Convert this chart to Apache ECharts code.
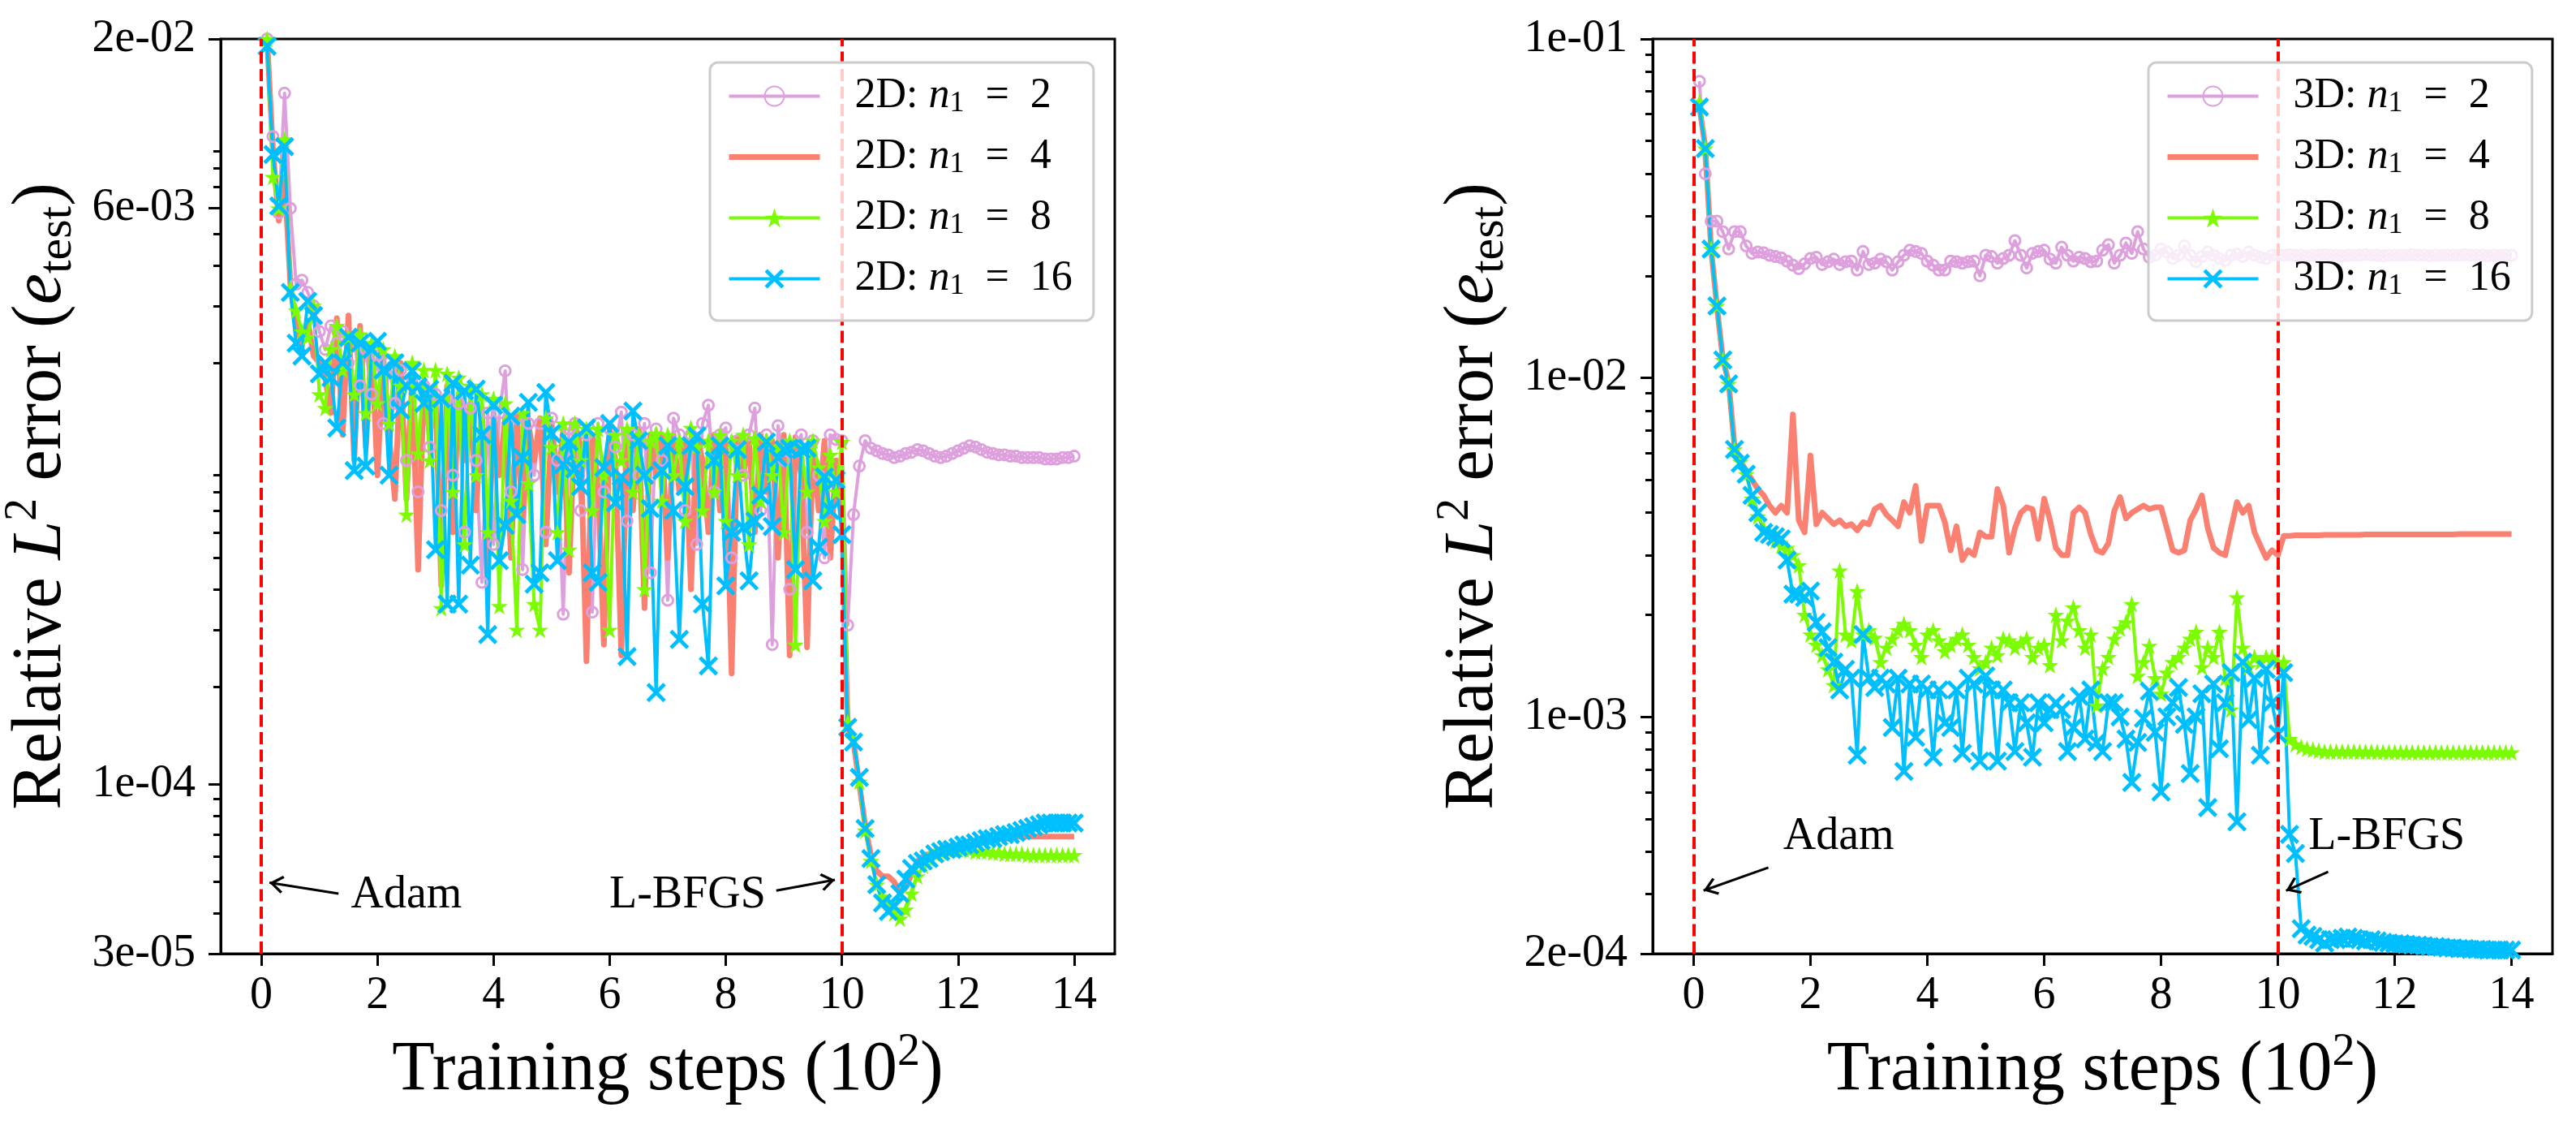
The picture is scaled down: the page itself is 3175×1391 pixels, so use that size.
<!DOCTYPE html>
<html><head><meta charset="utf-8">
<script src="https://cdn.jsdelivr.net/npm/echarts@6/dist/echarts.min.js"></script>
<style>html,body{margin:0;padding:0;background:#fff}#c{width:3175px;height:1391px}</style>
</head><body><div id="c"></div>
<script>
// ---------------- data ----------------
const steps = [
0.1,0.2,0.3,0.4,0.5,0.6,0.7,0.8,0.9,1.0,
1.1,1.2,1.3,1.4,1.5,1.6,1.7,1.8,1.9,2.0,
2.1,2.2,2.3,2.4,2.5,2.6,2.7,2.8,2.9,3.0,
3.1,3.2,3.3,3.4,3.5,3.6,3.7,3.8,3.9,4.0,
4.1,4.2,4.3,4.4,4.5,4.6,4.7,4.8,4.9,5.0,
5.1,5.2,5.3,5.4,5.5,5.6,5.7,5.8,5.9,6.0,
6.1,6.2,6.3,6.4,6.5,6.6,6.7,6.8,6.9,7.0,
7.1,7.2,7.3,7.4,7.5,7.6,7.7,7.8,7.9,8.0,
8.1,8.2,8.3,8.4,8.5,8.6,8.7,8.8,8.9,9.0,
9.1,9.2,9.3,9.4,9.5,9.6,9.7,9.8,9.9,10.0,
10.1,10.2,10.3,10.4,10.5,10.6,10.7,10.8,10.9,11.0,
11.1,11.2,11.3,11.4,11.5,11.6,11.7,11.8,11.9,12.0,
12.1,12.2,12.3,12.4,12.5,12.6,12.7,12.8,12.9,13.0,
13.1,13.2,13.3,13.4,13.5,13.6,13.7,13.8,13.9,14.0];

const xTicks = [0,2,4,6,8,10,12,14];
const yTicks2D = [2e-2, 6e-3, 1e-4, 3e-5];
const yTicks3D = [1e-1, 1e-2, 1e-3, 2e-4];
const yMinor2D = [4e-5,5e-5,6e-5,7e-5,8e-5,9e-5,2e-4,3e-4,4e-4,5e-4,6e-4,7e-4,8e-4,9e-4,2e-3,3e-3,4e-3,5e-3,7e-3,8e-3,9e-3];
const yMinor3D = [3e-4,4e-4,5e-4,6e-4,7e-4,8e-4,9e-4,2e-3,3e-3,4e-3,5e-3,6e-3,7e-3,8e-3,9e-3,2e-2,3e-2,4e-2,5e-2,6e-2,7e-2,8e-2,9e-2];

const names2D = ['2D: n1 = 2','2D: n1 = 4','2D: n1 = 8','2D: n1 = 16'];
const names3D = ['3D: n1 = 2','3D: n1 = 4','3D: n1 = 8','3D: n1 = 16'];

// 2D panel
const err2D_n2 = [
2.0e-2,1.0e-2,5.8e-3,1.36e-2,6.0e-3,3.5e-3,3.6e-3,3.3e-3,3.0e-3,2.5e-3,
2.2e-3,2.6e-3,2.3e-3,2.5e-3,2.0e-3,2.4e-3,1.7e-3,2.2e-3,1.6e-3,2.1e-3,
1.3e-3,2.0e-3,1.5e-3,1.9e-3,1.0e-3,1.8e-3,8.0e-4,1.7e-3,1.1e-3,1.6e-3,
7.0e-4,1.55e-3,9.0e-4,1.5e-3,6.0e-4,1.45e-3,1.0e-3,4.2e-4,1.4e-3,5.5e-4,
1.4e-3,1.89e-3,8.0e-4,1.35e-3,4.6e-4,1.3e-3,9.0e-4,1.3e-3,6.0e-4,1.35e-3,
1.0e-3,3.35e-4,1.25e-3,1.3e-3,7.0e-4,1.2e-3,3.4e-4,1.3e-3,8.0e-4,1.25e-3,
1.1e-3,1.41e-3,6.5e-4,1.2e-3,9.0e-4,1.3e-3,4.5e-4,1.25e-3,1.0e-3,3.7e-4,
1.35e-3,1.2e-3,7.0e-4,1.2e-3,5.5e-4,1.3e-3,1.48e-3,8.0e-4,1.2e-3,1.26e-3,
5.0e-4,1.15e-3,9.0e-4,1.2e-3,1.45e-3,7.0e-4,1.2e-3,2.7e-4,1.28e-3,1.0e-3,
4.0e-4,1.1e-3,1.2e-3,6.0e-4,1.15e-3,9.0e-4,5.0e-4,1.2e-3,1.16e-3,1.15e-3,
3.1e-4,6.8e-4,9.6e-4,1.15e-3,1.09e-3,1.07e-3,1.05e-3,1.04e-3,1.02e-3,1.03e-3,
1.05e-3,1.06e-3,1.08e-3,1.07e-3,1.05e-3,1.03e-3,1.02e-3,1.03e-3,1.05e-3,1.07e-3,
1.09e-3,1.11e-3,1.1e-3,1.08e-3,1.06e-3,1.05e-3,1.04e-3,1.04e-3,1.03e-3,1.03e-3,
1.02e-3,1.02e-3,1.02e-3,1.02e-3,1.01e-3,1.01e-3,1.01e-3,1.02e-3,1.02e-3,1.03e-3];

const err2D_n4 = [
2.0e-2,9.0e-3,5.5e-3,7.5e-3,3.5e-3,2.6e-3,2.3e-3,2.7e-3,2.1e-3,2.0e-3,
1.8e-3,1.4e-3,2.75e-3,1.2e-3,2.8e-3,1.0e-3,2.6e-3,1.1e-3,2.3e-3,9.0e-4,
2.1e-3,1.2e-3,7.6e-4,2.0e-3,7.6e-4,1.8e-3,4.6e-4,1.7e-3,1.2e-3,1.6e-3,
4.1e-4,1.7e-3,6.0e-4,1.6e-3,1.0e-3,1.5e-3,7.0e-4,1.45e-3,4.5e-4,1.4e-3,
9.0e-4,1.35e-3,5.0e-4,1.4e-3,6.5e-4,1.3e-3,1.0e-3,1.35e-3,5.5e-4,1.3e-3,
8.0e-4,1.25e-3,4.5e-4,1.3e-3,1.1e-3,2.4e-4,1.2e-3,8.5e-4,2.7e-4,1.25e-3,
1.0e-3,2.5e-4,1.2e-3,7.0e-4,1.25e-3,3.5e-4,1.2e-3,9.0e-4,1.2e-3,5.0e-4,
1.2e-3,8.0e-4,1.15e-3,4.0e-4,1.2e-3,1.0e-3,6.0e-4,1.2e-3,7.0e-4,1.15e-3,
2.2e-4,1.17e-3,9.0e-4,1.15e-3,6.0e-4,1.2e-3,8.0e-4,1.15e-3,5.0e-4,1.2e-3,
2.5e-4,1.18e-3,9.0e-4,2.65e-4,1.1e-3,7.0e-4,1.15e-3,5.0e-4,1.0e-3,7.0e-4,
1.5e-4,1.35e-4,1.0e-4,7.5e-5,6.0e-5,5.4e-5,5.2e-5,5.2e-5,5.0e-5,4.6e-5,
4.8e-5,5.3e-5,5.8e-5,6.0e-5,6.1e-5,6.2e-5,6.3e-5,6.3e-5,6.4e-5,6.4e-5,
6.5e-5,6.5e-5,6.6e-5,6.6e-5,6.7e-5,6.7e-5,6.8e-5,6.8e-5,6.8e-5,6.9e-5,
6.9e-5,6.9e-5,6.9e-5,6.9e-5,6.9e-5,6.9e-5,6.9e-5,6.9e-5,6.9e-5,6.9e-5];

const err2D_n8 = [
2.0e-2,7.5e-3,6.0e-3,9.8e-3,3.4e-3,2.9e-3,2.5e-3,2.4e-3,3.0e-3,1.6e-3,
1.45e-3,2.2e-3,2.6e-3,1.9e-3,2.4e-3,1.6e-3,2.45e-3,1.4e-3,2.3e-3,1.5e-3,
2.2e-3,1.3e-3,2.1e-3,1.7e-3,6.8e-4,2.0e-3,1.05e-3,1.9e-3,1.0e-3,1.9e-3,
3.5e-4,1.85e-3,8.0e-4,1.8e-3,5.5e-4,1.7e-3,9.0e-4,1.6e-3,6.0e-4,1.55e-3,
3.55e-4,1.5e-3,7.5e-4,3.0e-4,1.4e-3,8.5e-4,3.6e-4,3.0e-4,1.35e-3,1.1e-3,
6.0e-4,1.3e-3,5.3e-4,1.3e-3,1.0e-3,1.25e-3,7.0e-4,1.25e-3,9.0e-4,3.0e-4,
1.2e-3,1.0e-3,1.25e-3,8.0e-4,1.2e-3,4.0e-4,1.15e-3,1.21e-3,7.5e-4,1.2e-3,
9.0e-4,1.15e-3,6.5e-4,1.26e-3,1.1e-3,7.0e-4,1.15e-3,8.0e-4,1.2e-3,6.5e-4,
1.15e-3,9.0e-4,1.2e-3,5.5e-4,1.17e-3,7.5e-4,1.15e-3,9.0e-4,1.1e-3,6.0e-4,
1.15e-3,2.7e-4,1.1e-3,8.0e-4,1.15e-3,9.5e-4,6.5e-4,1.04e-3,8.0e-4,1.14e-3,
1.55e-4,1.38e-4,1.02e-4,7.2e-5,5.8e-5,4.9e-5,4.5e-5,4.3e-5,4.0e-5,3.85e-5,
4.1e-5,4.6e-5,5.2e-5,5.6e-5,5.9e-5,6.1e-5,6.2e-5,6.3e-5,6.3e-5,6.3e-5,
6.3e-5,6.25e-5,6.2e-5,6.2e-5,6.2e-5,6.15e-5,6.15e-5,6.1e-5,6.1e-5,6.1e-5,
6.1e-5,6.05e-5,6.05e-5,6.05e-5,6.05e-5,6.05e-5,6.05e-5,6.05e-5,6.05e-5,6.05e-5];

const err2D_n16 = [
1.9e-2,8.8e-3,6.1e-3,9.3e-3,3.3e-3,2.3e-3,2.1e-3,3.1e-3,2.8e-3,1.85e-3,
2.0e-3,1.8e-3,1.26e-3,2.0e-3,2.4e-3,9.3e-4,2.3e-3,9.6e-4,2.2e-3,2.33e-3,
1.9e-3,9.0e-4,2.0e-3,1.43e-3,1.7e-3,1.89e-3,1.69e-3,1.5e-3,1.66e-3,5.3e-4,
1.55e-3,3.6e-4,1.73e-3,3.6e-4,1.64e-3,4.75e-4,1.66e-3,1.2e-3,2.9e-4,1.48e-3,
4.9e-4,6.3e-4,1.37e-3,6.8e-4,1.02e-3,1.51e-3,4.15e-4,4.5e-4,1.62e-3,1.21e-3,
4.9e-4,9.7e-4,1.14e-3,9.4e-4,8.3e-4,1.26e-3,4.5e-4,4.2e-4,9.5e-4,1.3e-3,
7.4e-4,8.9e-4,2.48e-4,1.42e-3,1.15e-3,9.0e-4,7.1e-4,1.92e-4,9.3e-4,1.11e-3,
7.0e-4,2.8e-4,8.3e-4,1.11e-3,1.19e-3,3.6e-4,2.32e-4,1.0e-3,1.11e-3,4.1e-4,
6.0e-4,1.08e-3,6.2e-4,4.25e-4,6.5e-4,7.8e-4,1.14e-3,6.25e-4,1.02e-3,1.08e-3,
1.09e-3,4.6e-4,1.08e-3,1.09e-3,4.25e-4,5.4e-4,8.9e-4,7.0e-4,8.7e-4,5.9e-4,
1.5e-4,1.35e-4,1.05e-4,7.3e-5,5.9e-5,4.9e-5,4.3e-5,4.05e-5,4.2e-5,4.6e-5,
5.1e-5,5.5e-5,5.7e-5,5.8e-5,5.9e-5,6.1e-5,6.2e-5,6.3e-5,6.3e-5,6.4e-5,
6.5e-5,6.5e-5,6.6e-5,6.7e-5,6.8e-5,6.8e-5,6.9e-5,7.0e-5,7.0e-5,7.1e-5,
7.2e-5,7.3e-5,7.4e-5,7.5e-5,7.6e-5,7.6e-5,7.6e-5,7.6e-5,7.6e-5,7.6e-5];

// 3D panel
const err3D_n2 = [
7.5e-2,4.0e-2,2.9e-2,2.9e-2,2.7e-2,2.4e-2,2.7e-2,2.7e-2,2.45e-2,2.33e-2,
2.35e-2,2.34e-2,2.3e-2,2.28e-2,2.26e-2,2.21e-2,2.15e-2,2.1e-2,2.17e-2,2.25e-2,
2.27e-2,2.16e-2,2.2e-2,2.24e-2,2.16e-2,2.2e-2,2.21e-2,2.08e-2,2.36e-2,2.16e-2,
2.18e-2,2.24e-2,2.2e-2,2.08e-2,2.2e-2,2.3e-2,2.38e-2,2.36e-2,2.33e-2,2.21e-2,
2.15e-2,2.08e-2,2.08e-2,2.21e-2,2.2e-2,2.18e-2,2.2e-2,2.21e-2,2.0e-2,2.3e-2,
2.28e-2,2.18e-2,2.25e-2,2.3e-2,2.54e-2,2.3e-2,2.11e-2,2.33e-2,2.36e-2,2.38e-2,
2.24e-2,2.18e-2,2.43e-2,2.3e-2,2.21e-2,2.27e-2,2.25e-2,2.2e-2,2.21e-2,2.38e-2,
2.47e-2,2.18e-2,2.3e-2,2.5e-2,2.33e-2,2.7e-2,2.4e-2,2.27e-2,2.3e-2,2.4e-2,
2.35e-2,2.25e-2,2.3e-2,2.45e-2,2.3e-2,2.2e-2,2.28e-2,2.35e-2,2.3e-2,2.25e-2,
2.22e-2,2.3e-2,2.32e-2,2.28e-2,2.35e-2,2.3e-2,2.27e-2,2.25e-2,2.3e-2,2.3e-2,
2.3e-2,2.31e-2,2.3e-2,2.3e-2,2.29e-2,2.3e-2,2.3e-2,2.31e-2,2.3e-2,2.3e-2,
2.29e-2,2.3e-2,2.3e-2,2.3e-2,2.31e-2,2.3e-2,2.3e-2,2.29e-2,2.3e-2,2.3e-2,
2.3e-2,2.3e-2,2.31e-2,2.3e-2,2.3e-2,2.29e-2,2.3e-2,2.3e-2,2.3e-2,2.3e-2,
2.3e-2,2.31e-2,2.3e-2,2.3e-2,2.3e-2,2.29e-2,2.3e-2,2.3e-2,2.3e-2,2.3e-2];

const err3D_n4 = [
6.3e-2,4.8e-2,2.4e-2,1.62e-2,1.14e-2,9.7e-3,6.3e-3,5.7e-3,5.3e-3,5.0e-3,
4.7e-3,4.5e-3,4.2e-3,4.0e-3,4.2e-3,4.0e-3,7.8e-3,3.8e-3,3.5e-3,5.9e-3,
3.7e-3,4.0e-3,3.85e-3,3.7e-3,3.8e-3,3.65e-3,3.7e-3,3.55e-3,3.75e-3,3.7e-3,
4.1e-3,4.2e-3,3.95e-3,3.8e-3,3.65e-3,4.3e-3,4.0e-3,4.8e-3,3.3e-3,4.2e-3,
4.2e-3,4.2e-3,3.75e-3,3.1e-3,3.65e-3,2.9e-3,3.1e-3,3.0e-3,3.5e-3,3.4e-3,
3.4e-3,4.7e-3,4.2e-3,3.05e-3,3.6e-3,4.0e-3,4.15e-3,4.1e-3,3.35e-3,4.4e-3,
3.8e-3,3.15e-3,3.0e-3,3.0e-3,4.0e-3,4.15e-3,4.0e-3,3.45e-3,3.1e-3,3.05e-3,
3.25e-3,4.05e-3,4.45e-3,3.85e-3,4.0e-3,4.1e-3,4.2e-3,4.1e-3,4.15e-3,4.15e-3,
3.6e-3,3.1e-3,3.05e-3,3.1e-3,3.8e-3,4.1e-3,4.5e-3,3.6e-3,3.15e-3,3.05e-3,
3.0e-3,3.6e-3,4.3e-3,4.0e-3,4.2e-3,3.5e-3,3.2e-3,2.94e-3,3.1e-3,3.0e-3,
3.42e-3,3.42e-3,3.43e-3,3.43e-3,3.43e-3,3.43e-3,3.43e-3,3.44e-3,3.44e-3,3.44e-3,
3.44e-3,3.44e-3,3.44e-3,3.44e-3,3.45e-3,3.45e-3,3.45e-3,3.45e-3,3.45e-3,3.45e-3,
3.45e-3,3.45e-3,3.45e-3,3.45e-3,3.45e-3,3.45e-3,3.45e-3,3.45e-3,3.45e-3,3.45e-3,
3.46e-3,3.46e-3,3.46e-3,3.46e-3,3.46e-3,3.46e-3,3.46e-3,3.46e-3,3.46e-3,3.46e-3];

const err3D_n8 = [
6.5e-2,4.75e-2,2.4e-2,1.63e-2,1.13e-2,9.6e-3,6.15e-3,5.65e-3,5.2e-3,4.4e-3,
3.9e-3,3.6e-3,3.5e-3,3.3e-3,3.2e-3,3.15e-3,3.0e-3,2.8e-3,2.0e-3,1.75e-3,
1.63e-3,1.52e-3,1.38e-3,1.24e-3,2.7e-3,1.75e-3,1.68e-3,2.35e-3,1.75e-3,1.8e-3,
1.71e-3,1.45e-3,1.6e-3,1.7e-3,1.8e-3,1.88e-3,1.8e-3,1.63e-3,1.5e-3,1.75e-3,
1.8e-3,1.68e-3,1.56e-3,1.63e-3,1.7e-3,1.75e-3,1.63e-3,1.5e-3,1.39e-3,1.45e-3,
1.6e-3,1.52e-3,1.7e-3,1.68e-3,1.6e-3,1.65e-3,1.7e-3,1.5e-3,1.6e-3,1.63e-3,
1.42e-3,2.0e-3,1.68e-3,1.92e-3,2.1e-3,1.8e-3,1.6e-3,1.75e-3,1.08e-3,1.39e-3,
1.5e-3,1.7e-3,1.82e-3,1.9e-3,2.15e-3,1.32e-3,1.45e-3,1.62e-3,1.3e-3,1.17e-3,
1.35e-3,1.45e-3,1.5e-3,1.6e-3,1.7e-3,1.78e-3,1.4e-3,1.6e-3,1.5e-3,1.78e-3,
1.3e-3,1.05e-3,2.25e-3,1.6e-3,1.4e-3,1.5e-3,1.45e-3,1.5e-3,1.5e-3,1.45e-3,
1.45e-3,8.6e-4,8.3e-4,8.15e-4,8.05e-4,8.0e-4,7.95e-4,7.9e-4,7.9e-4,7.9e-4,
7.9e-4,7.9e-4,7.9e-4,7.88e-4,7.88e-4,7.88e-4,7.87e-4,7.87e-4,7.86e-4,7.86e-4,
7.86e-4,7.85e-4,7.85e-4,7.85e-4,7.85e-4,7.85e-4,7.85e-4,7.85e-4,7.85e-4,7.85e-4,
7.85e-4,7.85e-4,7.85e-4,7.85e-4,7.85e-4,7.85e-4,7.85e-4,7.85e-4,7.85e-4,7.85e-4];

const err3D_n16 = [
6.3e-2,4.75e-2,2.4e-2,1.63e-2,1.13e-2,9.6e-3,6.15e-3,5.6e-3,5.2e-3,4.5e-3,
4.0e-3,3.5e-3,3.45e-3,3.4e-3,3.35e-3,2.9e-3,2.3e-3,2.3e-3,2.25e-3,2.35e-3,
1.9e-3,1.78e-3,1.6e-3,1.45e-3,1.2e-3,1.38e-3,1.3e-3,7.7e-4,1.75e-3,1.3e-3,
1.22e-3,1.3e-3,1.25e-3,9.3e-4,1.3e-3,6.9e-4,1.25e-3,8.7e-4,1.25e-3,1.2e-3,
7.6e-4,1.2e-3,9.6e-4,9.3e-4,1.2e-3,7.8e-4,1.3e-3,1.25e-3,7.4e-4,1.32e-3,
1.2e-3,7.4e-4,1.2e-3,1.1e-3,7.9e-4,1.1e-3,9.6e-4,7.6e-4,1.1e-3,9.6e-4,
1.05e-3,1.1e-3,1.05e-3,7.9e-4,9.3e-4,1.15e-3,8.6e-4,1.2e-3,8.4e-4,7.9e-4,
1.1e-3,1.1e-3,1.0e-3,8.6e-4,6.4e-4,8.4e-4,9.9e-4,1.19e-3,9.0e-4,6.0e-4,
1.0e-3,1.1e-3,1.22e-3,9.5e-4,6.8e-4,1.0e-3,1.17e-3,5.4e-4,1.25e-3,8.05e-4,
1.1e-3,1.35e-3,4.9e-4,1.45e-3,9.8e-4,1.3e-3,7.7e-4,1.38e-3,1.1e-3,8.9e-4,
1.35e-3,4.5e-4,3.95e-4,2.37e-4,2.27e-4,2.25e-4,2.2e-4,2.15e-4,2.2e-4,2.2e-4,
2.22e-4,2.24e-4,2.22e-4,2.2e-4,2.18e-4,2.2e-4,2.18e-4,2.16e-4,2.15e-4,2.14e-4,
2.14e-4,2.13e-4,2.12e-4,2.12e-4,2.11e-4,2.1e-4,2.1e-4,2.09e-4,2.08e-4,2.08e-4,
2.07e-4,2.07e-4,2.06e-4,2.06e-4,2.06e-4,2.05e-4,2.05e-4,2.05e-4,2.05e-4,2.05e-4];

// annotations: [text, text anchor (left, baseline), arrow tail, arrow head]
const notes2D = [
  ['Adam',   [1.55, 4.06e-5], [1.33, 4.6e-5], [0.14, 4.97e-5]],
  ['L-BFGS', [6.0, 4.06e-5],  [8.87, 4.7e-5], [9.88, 5.07e-5]]
];
const notes3D = [
  ['Adam',   [1.54, 3.96e-4],  [1.28, 3.59e-4],  [0.17, 3.07e-4]],
  ['L-BFGS', [10.53, 3.96e-4], [10.86, 3.49e-4], [10.14, 3.07e-4]]
];
const phaseLines = [0, 10];

// ---------------- styling ----------------
const F = "'Liberation Serif', 'Times New Roman', serif";
const STAR = 'path://M10,0L12.35,7.24L19.51,7.24L13.58,11.72L15.88,19L10,14.5L4.12,19L6.42,11.72L0.49,7.24L7.65,7.24Z';
const XMARK = 'path://M0,2.8L2.8,0L10,7.2L17.2,0L20,2.8L12.8,10L20,17.2L17.2,20L10,12.8L2.8,20L0,17.2L7.2,10Z';
const CHEV = 'path://M10,-16.1L10.02,-16.1L10,-16.08ZM10,0L20,14L17.9,16.1L10,5.2L2.1,16.1L0,14Z';

const STY = [
  {symbol:'circle', symbolSize:13, lineStyle:{color:'#DDA0DD', width:4}, itemStyle:{color:'rgba(255,255,255,0)', borderColor:'#DDA0DD', borderWidth:3}},
  {symbol:'none', lineStyle:{color:'#FA8072', width:7}, itemStyle:{color:'#FA8072'}},
  {symbol:STAR, symbolSize:21, lineStyle:{color:'#7CFC00', width:4}, itemStyle:{color:'#7CFC00'}},
  {symbol:XMARK, symbolSize:24, lineStyle:{color:'#00BFFF', width:4}, itemStyle:{color:'#00BFFF'}}
];

function fmtE(v) {
  const e = Math.floor(Math.log10(v) + 1e-9);
  const m = Math.round(v / Math.pow(10, e));
  const ee = Math.abs(e);
  return m + 'e' + (e < 0 ? '-' : '+') + (ee < 10 ? '0' + ee : ee);
}
const L10 = v => Math.log10(v);

const gridLeft = [265, 2037];

function xAxisFor(g) {
  return {
    type:'value', gridIndex:g, min:-0.7, max:14.7,
    axisLine:{show:true, onZero:false, lineStyle:{color:'#000', width:3}},
    axisTick:{show:true, customValues:xTicks, length:15, lineStyle:{color:'#000', width:3}},
    axisLabel:{show:true, customValues:xTicks, margin:24, fontFamily:F, fontSize:56, color:'#000'},
    splitLine:{show:false},
    name:'Training steps (10{sup|2})', nameLocation:'middle', nameGap:94,
    nameTextStyle:{fontFamily:F, fontSize:86, color:'#000', lineHeight:100,
      rich:{sup:{fontFamily:F, fontSize:56, lineHeight:56, verticalAlign:'top', color:'#000'}}}
  };
}

function yAxesFor(g, min, max, major, minor) {
  return [
    {type:'log', gridIndex:g, logBase:10, min:min, max:max, show:false},
    {type:'value', gridIndex:g, min:L10(min), max:L10(max), position:'left',
     axisLine:{show:true, onZero:false, lineStyle:{color:'#000', width:3}},
     axisTick:{show:true, customValues:major.map(L10), length:15, lineStyle:{color:'#000', width:3}},
     axisLabel:{show:true, customValues:major.map(L10), formatter:v => fmtE(Math.pow(10, v)),
       margin:31, fontFamily:F, fontSize:56, color:'#000'},
     splitLine:{show:false},
     name:'Relative {i|L}{sup|2} error ({i|e}{sub|test})', nameLocation:'middle', nameGap:171, nameRotate:90,
     nameTextStyle:{fontFamily:F, fontSize:86, color:'#000', lineHeight:100,
       rich:{
         i:{fontFamily:F, fontSize:86, fontStyle:'italic', lineHeight:100, color:'#000'},
         sup:{fontFamily:F, fontSize:56, lineHeight:56, verticalAlign:'top', color:'#000'},
         sub:{fontFamily:F, fontSize:60, lineHeight:60, verticalAlign:'bottom', color:'#000'}
       }}
    },
    {type:'value', gridIndex:g, min:L10(min), max:L10(max), position:'left',
     axisLine:{show:false, onZero:false},
     axisTick:{show:true, customValues:minor.map(L10), length:9, lineStyle:{color:'#000', width:3}},
     axisLabel:{show:false}, splitLine:{show:false}}
  ];
}

function legendFor(g, names, left) {
  return {
    data:names.map(function (n, k) {
      const it = {name:n, lineStyle:{width:STY[k].lineStyle.width, color:STY[k].lineStyle.color}};
      if (STY[k].symbol === 'none') it.itemStyle = {opacity:0};
      return it;
    }),
    left:left, top:77, orient:'vertical', z:20,
    itemWidth:112, itemHeight:30, itemGap:20,
    padding:[14, 26, 24, 20],
    backgroundColor:'rgba(255,255,255,0.8)', borderColor:'#cccccc', borderWidth:3, borderRadius:10,
    selectedMode:false,
    formatter:function (name) {
      const m = name.match(/^(\S+): n1 = (\d+)$/);
      return '{t|' + m[1] + ': }{i|n}{s|1}{t|  =  ' + m[2] + '}';
    },
    textStyle:{fontFamily:F, fontSize:52, color:'#000', lineHeight:55, padding:[0,0,0,38],
      rich:{
        t:{fontFamily:F, fontSize:52, lineHeight:55, color:'#000'},
        i:{fontFamily:F, fontSize:52, fontStyle:'italic', lineHeight:55, color:'#000'},
        s:{fontFamily:F, fontSize:36, lineHeight:36, verticalAlign:'bottom', color:'#000'}
      }}
  };
}

function seriesFor(g, names, arrays, notes) {
  return arrays.map(function (vals, k) {
    const s = STY[k];
    const ser = {
      type:'line', name:names[k], xAxisIndex:g, yAxisIndex:g * 3,
      data:steps.map((x, i) => [x, vals[i]]),
      symbol:s.symbol, symbolSize:s.symbolSize || 4,
      lineStyle:Object.assign({join:'round'}, s.lineStyle),
      itemStyle:s.itemStyle,
      emphasis:{disabled:true}, silent:true, animation:false, z:2
    };
    if (k === arrays.length - 1) {
      const red = {color:'#ff0000', width:4, type:[15, 6.5]};
      const ml = phaseLines.map(x => ({xAxis:x, lineStyle:red}));
      notes.forEach(function (n) {
        ml.push([
          {coord:n[2], symbol:'none', lineStyle:{color:'#000', width:3, type:'solid'}},
          {coord:n[3], symbol:CHEV, symbolSize:[22, 35]}
        ]);
      });
      ser.markLine = {silent:true, animation:false, z:6, label:{show:false}, symbol:['none','none'], data:ml};
      ser.markPoint = {
        silent:true, animation:false, z:6, symbol:'circle', symbolSize:1,
        itemStyle:{color:'rgba(0,0,0,0)'},
        label:{show:true, position:[0, 0], align:'left', verticalAlign:'bottom', offset:[0, 9],
          fontFamily:F, fontSize:56, color:'#000'},
        data:notes.map(n => ({coord:n[1], name:n[0], label:{formatter:n[0]}}))
      };
    }
    return ser;
  });
}

const option = {
  backgroundColor:'#ffffff',
  animation:false,
  textStyle:{fontFamily:F},
  grid:[
    {left:gridLeft[0], top:48, width:1109, height:1127, show:true, borderColor:'#000', borderWidth:3, backgroundColor:'rgba(0,0,0,0)'},
    {left:gridLeft[1], top:48, width:1109, height:1127, show:true, borderColor:'#000', borderWidth:3, backgroundColor:'rgba(0,0,0,0)'}
  ],
  xAxis:[xAxisFor(0), xAxisFor(1)],
  yAxis:[].concat(yAxesFor(0, 3e-5, 2e-2, yTicks2D, yMinor2D), yAxesFor(1, 2e-4, 1e-1, yTicks3D, yMinor3D)),
  legend:[legendFor(0, names2D, 875), legendFor(1, names3D, 2648)],
  series:[].concat(
    seriesFor(0, names2D, [err2D_n2, err2D_n4, err2D_n8, err2D_n16], notes2D),
    seriesFor(1, names3D, [err3D_n2, err3D_n4, err3D_n8, err3D_n16], notes3D)
  )
};

const chart = echarts.init(document.getElementById('c'), null, {renderer:'canvas'});
chart.setOption(option);
</script>
</body></html>
